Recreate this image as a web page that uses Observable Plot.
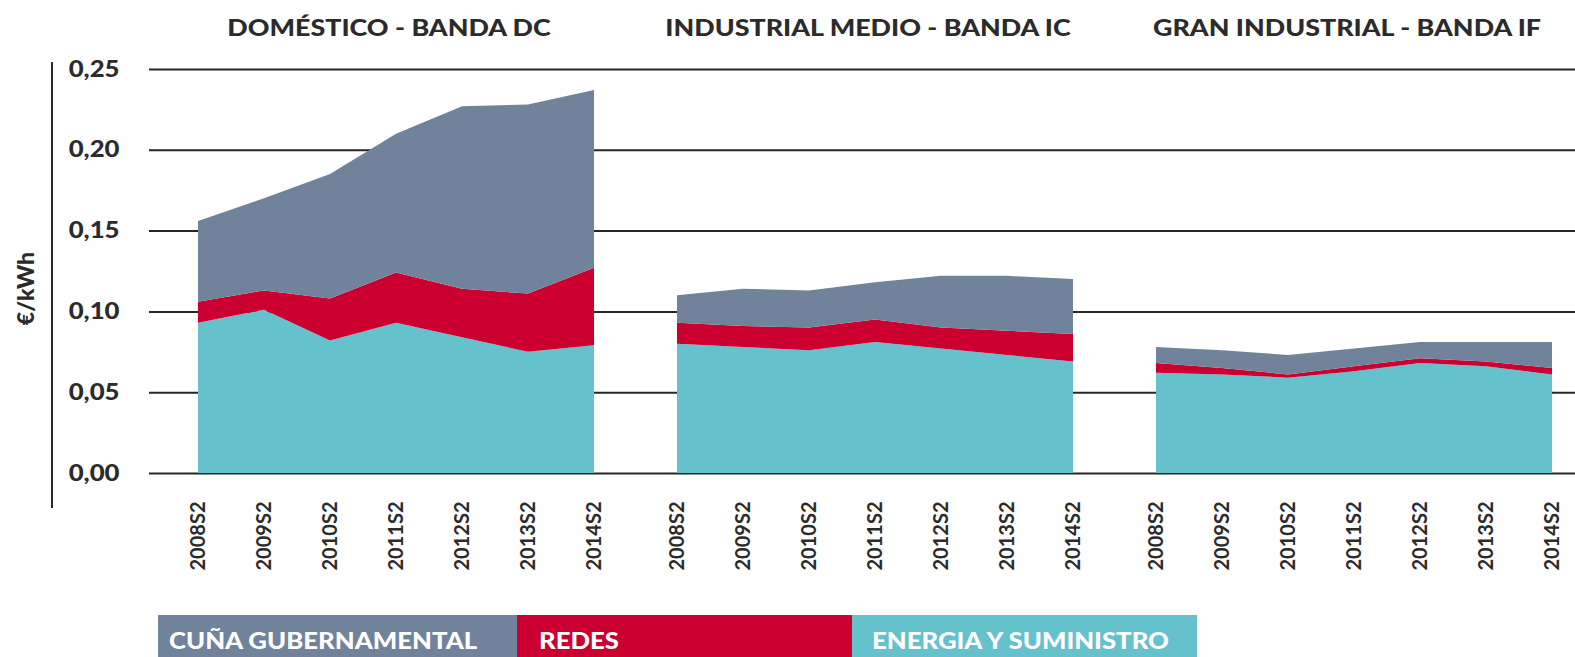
<!DOCTYPE html>
<html><head><meta charset="utf-8">
<script src="https://cdn.jsdelivr.net/npm/d3@7"></script>
<script src="https://cdn.jsdelivr.net/npm/@observablehq/plot@0.6"></script>
<style>
body{margin:0;background:#fff;font-family:Lato,sans-serif;}
#wrap{position:relative;width:1575px;height:657px;overflow:hidden;}
#axisline{position:absolute;left:51px;top:62px;width:2px;height:446px;background:#2b2b2b;}
#legend{position:absolute;left:158px;top:615px;height:45px;display:flex;}
#legend div{height:100%;display:flex;align-items:center;padding-top:6px;color:#fff;font-weight:900;font-size:22px;box-sizing:border-box;white-space:nowrap;}
#legend span{display:inline-block;transform:scaleX(1.17);transform-origin:left center;}
</style></head><body><div id="wrap"><div id="chart"></div><div id="axisline"></div><div id="legend"></div></div>
<script>
const periods = ["2008S2","2009S2","2010S2","2011S2","2012S2","2013S2","2014S2"];
const panels = ["DOMÉSTICO - BANDA DC","INDUSTRIAL MEDIO - BANDA IC","GRAN INDUSTRIAL - BANDA IF"];
const components = ["ENERGIA Y SUMINISTRO","REDES","CUÑA GUBERNAMENTAL"];
const legendOrder = ["CUÑA GUBERNAMENTAL","REDES","ENERGIA Y SUMINISTRO"];
const colors = ["#71839b","#cc0030","#65c1cc"];
const yTicks = [0,0.05,0.10,0.15,0.20,0.25];

// €/kWh by component
const energiaDC = [0.093,0.101,0.082,0.093,0.084,0.075,0.079];
const redesDC   = [0.013,0.012,0.026,0.031,0.030,0.036,0.048];
const cunaDC    = [0.050,0.057,0.077,0.086,0.113,0.117,0.110];
const energiaIC = [0.080,0.078,0.076,0.081,0.077,0.073,0.069];
const redesIC   = [0.013,0.013,0.014,0.014,0.013,0.015,0.017];
const cunaIC    = [0.017,0.023,0.023,0.023,0.032,0.034,0.034];
const energiaIF = [0.062,0.061,0.059,0.063,0.068,0.066,0.061];
const redesIF   = [0.006,0.004,0.002,0.003,0.003,0.003,0.004];
const cunaIF    = [0.010,0.011,0.012,0.011,0.010,0.012,0.016];

const series = [
  [energiaDC, redesDC, cunaDC],
  [energiaIC, redesIC, cunaIC],
  [energiaIF, redesIF, cunaIF]
];
const rows = [];
panels.forEach((panel, p) => {
  components.forEach((component, c) => {
    series[p][c].forEach((value, i) => rows.push({panel, component, period: periods[i], value}));
  });
});

const chart = Plot.plot({
  width: 1575, height: 600,
  marginLeft: 148, marginRight: -11.5, marginTop: 69, marginBottom: 127,
  style: {fontFamily: "Lato, sans-serif", color: "#2b2b2b", background: "#fff"},
  fx: {domain: panels, padding: 0, axis: null},
  x: {domain: periods, type: "point", padding: 0.616, align: 0.589, axis: null},
  y: {domain: [0, 0.25], axis: null},
  color: {domain: legendOrder, range: colors},
  marks: [
    Plot.ruleY(yTicks, {stroke: "#262626", strokeWidth: 2}),
    Plot.areaY(rows, Plot.stackY({x: "period", y: "value", z: "component", fill: "component", fx: "panel", order: components})),
    Plot.axisX({tickRotate: -90, tickSize: 0, tickPadding: 28, fontSize: 20, fontWeight: 700, label: null}),
    Plot.axisY({ticks: yTicks, tickFormat: d => d.toFixed(2).replace(".", ","), tickSize: 0, tickPadding: 30, fontSize: 22, fontWeight: 900, label: null}),
    Plot.text(["€/kWh"], {fx: () => panels[0], text: d => d, frameAnchor: "left", textAnchor: "middle", lineAnchor: "middle", dx: -123, dy: 17, rotate: -90, fontSize: 23, fontWeight: 900, fill: "#2b2b2b"}),
    Plot.text(panels, {fx: d => d, text: d => d, frameAnchor: "top", textAnchor: "middle", lineAnchor: "middle", dy: -41, fontSize: 22, fontWeight: 900, fill: "#2b2b2b"})
  ]
});
document.getElementById("chart").appendChild(chart);

// the reference lettering is horizontally widened
function widen(nodes, factor) {
  nodes.each(function () {
    const w = this.getComputedTextLength();
    this.setAttribute("textLength", w * factor);
    this.setAttribute("lengthAdjust", "spacingAndGlyphs");
  });
}
widen(d3.select(chart).selectAll('g[aria-label="y-axis tick label"] text'), 1.17);
widen(d3.select(chart).selectAll("text").filter(function () { return panels.includes(this.textContent); }), 1.22);

const legendWidths = [359, 335, 345];
const legendPad = [11, 22, 20];
const legend = document.getElementById("legend");
legendOrder.forEach((name, i) => {
  const d = document.createElement("div");
  const s = document.createElement("span");
  s.textContent = name;
  d.appendChild(s);
  d.style.background = colors[i];
  d.style.width = legendWidths[i] + "px";
  d.style.paddingLeft = legendPad[i] + "px";
  legend.appendChild(d);
});
</script></body></html>
